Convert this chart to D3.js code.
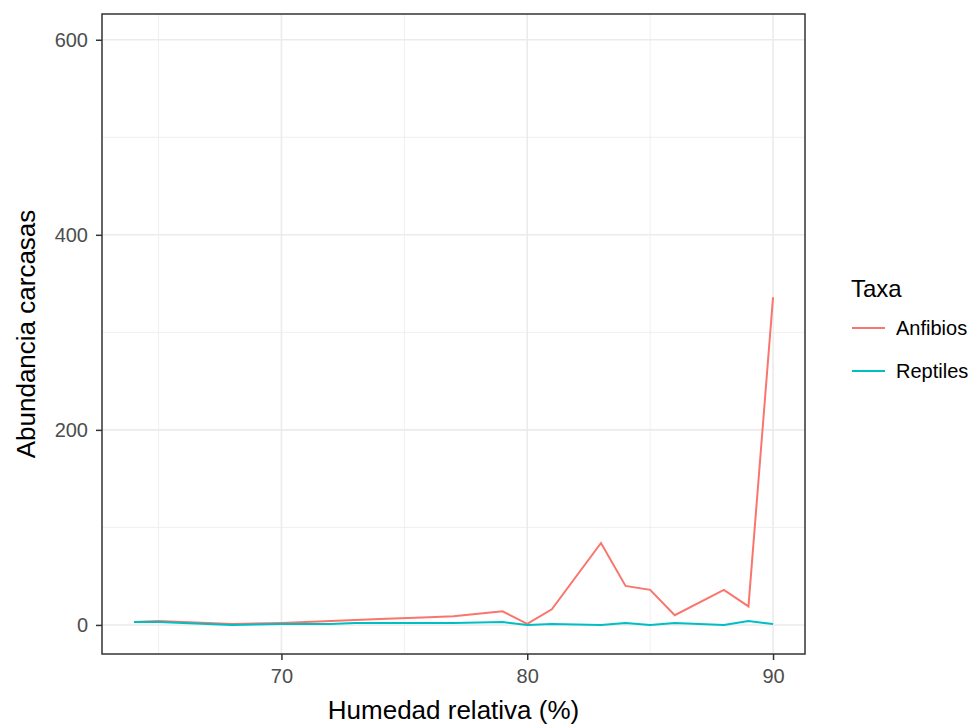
<!DOCTYPE html>
<html>
<head>
<meta charset="utf-8">
<script src="https://cdn.jsdelivr.net/npm/d3@7"></script>
<style>
  body { margin: 0; background: #fff; }
  text { font-family: "Liberation Sans", Arial, sans-serif; }
</style>
</head>
<body>
<div id="chart"></div>
<script>
// humedad relativa (%) and abundance per taxa
const humedad = [64, 65, 66, 67, 68, 70, 72, 73, 74, 76, 77, 79, 80, 81, 83, 84, 85, 86, 88, 89, 90];
const anfibios = [3, 4, 3, 2, 1, 2, 4, 5, 6, 8, 9, 14, 1, 16, 84, 40, 36, 10, 36, 19, 336];
const reptiles = [3, 3, 2, 1, 0, 1, 1, 2, 2, 2, 2, 3, 0, 1, 0, 2, 0, 2, 0, 4, 1];
const taxa = ["Anfibios", "Reptiles"];
const colores = ["#F8766D", "#00BFC4"];
const xTicks = [70, 80, 90];
const xMinor = [65, 75, 85];
const yTicks = [0, 200, 400, 600];
const yMinor = [100, 300, 500];

const width = 976;
const height = 724;
const margin = { top: 14, left: 102, right: 171, bottom: 70 };

const svg = d3.select("#chart")
  .append("svg")
  .attr("width", width)
  .attr("height", height);

const xScale = d3.scaleLinear()
  .domain([62.7, 91.3])
  .range([margin.left, width - margin.right]);

const yScale = d3.scaleLinear()
  .domain([-29.8, 626.4])
  .range([height - margin.bottom, margin.top]);

// grid
const grid = svg.append("g");
grid.selectAll(".xminor").data(xMinor).enter().append("line")
  .attr("x1", d => xScale(d)).attr("x2", d => xScale(d))
  .attr("y1", margin.top).attr("y2", height - margin.bottom)
  .attr("stroke", "#EBEBEB").attr("stroke-width", 0.8);
grid.selectAll(".yminor").data(yMinor).enter().append("line")
  .attr("y1", d => yScale(d)).attr("y2", d => yScale(d))
  .attr("x1", margin.left).attr("x2", width - margin.right)
  .attr("stroke", "#EBEBEB").attr("stroke-width", 0.8);
grid.selectAll(".xmajor").data(xTicks).enter().append("line")
  .attr("x1", d => xScale(d)).attr("x2", d => xScale(d))
  .attr("y1", margin.top).attr("y2", height - margin.bottom)
  .attr("stroke", "#EBEBEB").attr("stroke-width", 1.6);
grid.selectAll(".ymajor").data(yTicks).enter().append("line")
  .attr("y1", d => yScale(d)).attr("y2", d => yScale(d))
  .attr("x1", margin.left).attr("x2", width - margin.right)
  .attr("stroke", "#EBEBEB").attr("stroke-width", 1.6);

// lines
const series = [anfibios, reptiles];
const line = d3.line()
  .x((d, i) => xScale(humedad[i]))
  .y(d => yScale(d));

svg.selectAll(".serie")
  .data(series)
  .enter()
  .append("path")
    .attr("d", d => line(d))
    .attr("fill", "none")
    .attr("stroke", (d, i) => colores[i])
    .attr("stroke-width", 2);

// axes
const xAxis = svg.append("g")
  .attr("transform", `translate(0,${height - margin.bottom})`)
  .call(d3.axisBottom(xScale).tickValues(xTicks).tickSize(6).tickPadding(9));

const yAxis = svg.append("g")
  .attr("transform", `translate(${margin.left},0)`)
  .call(d3.axisLeft(yScale).tickValues(yTicks).tickSize(6).tickPadding(8));

[xAxis, yAxis].forEach(a => {
  a.select(".domain").remove();
  a.selectAll(".tick line").attr("stroke", "#333333").attr("stroke-width", 1.5);
  a.selectAll(".tick text")
    .attr("fill", "#4D4D4D")
    .style("font-size", "20px")
    .style("font-family", "'Liberation Sans', Arial, sans-serif");
});

// panel border
svg.append("rect")
  .attr("x", margin.left).attr("y", margin.top)
  .attr("width", width - margin.left - margin.right)
  .attr("height", height - margin.top - margin.bottom)
  .attr("fill", "none")
  .attr("stroke", "#333333")
  .attr("stroke-width", 1.5);

// axis titles
svg.append("text")
  .attr("x", (margin.left + width - margin.right) / 2)
  .attr("y", 719)
  .attr("text-anchor", "middle")
  .style("font-size", "26px")
  .text("Humedad relativa (%)");

svg.append("text")
  .attr("transform", "rotate(-90)")
  .attr("x", -(margin.top + height - margin.bottom) / 2)
  .attr("y", 35)
  .attr("text-anchor", "middle")
  .style("font-size", "26px")
  .text("Abundancia carcasas");

// legend
const legend = svg.append("g").attr("transform", "translate(851,0)");
legend.append("text")
  .attr("x", 0).attr("y", 297)
  .style("font-size", "24px")
  .text("Taxa");

const items = legend.selectAll(".item")
  .data(taxa)
  .enter()
  .append("g")
  .attr("transform", (d, i) => `translate(0,${328 + i * 43})`);

items.append("line")
  .attr("x1", 1).attr("x2", 34)
  .attr("y1", 0).attr("y2", 0)
  .attr("stroke", (d, i) => colores[i])
  .attr("stroke-width", 2);

items.append("text")
  .attr("x", 45).attr("y", 7)
  .style("font-size", "20px")
  .text(d => d);
</script>
</body>
</html>
